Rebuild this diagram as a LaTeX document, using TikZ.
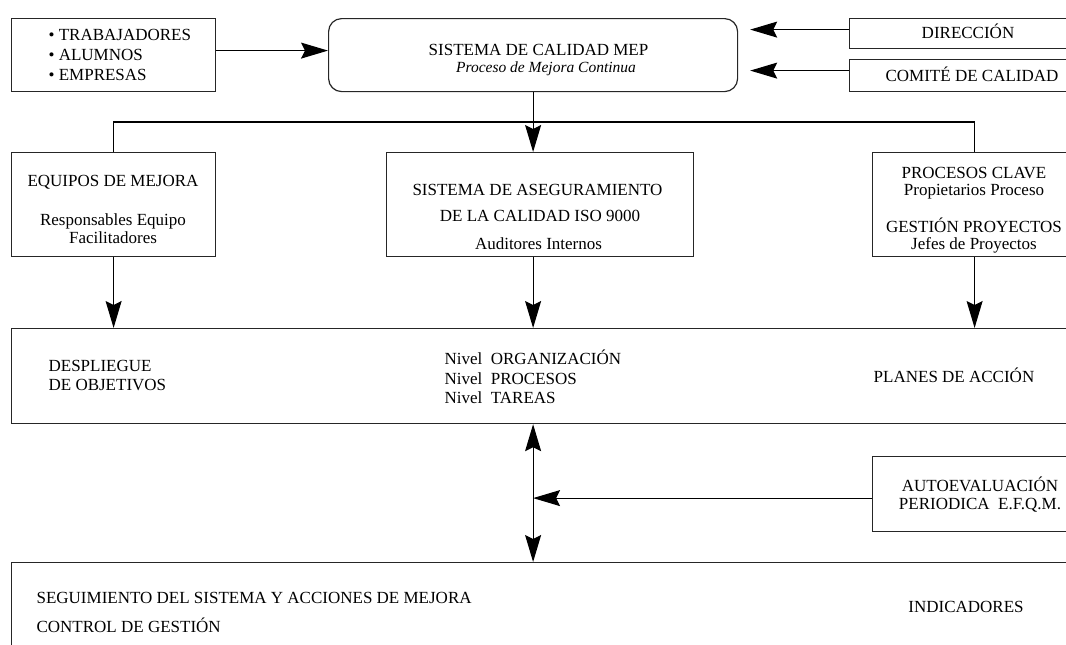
\documentclass[tikz,border=0pt]{standalone}
\usepackage{fontspec}
\setmainfont{Liberation Serif}
\usetikzlibrary{arrows.meta}
\begin{document}
\begin{tikzpicture}[x=1pt,y=-1pt, line width=1.2pt,
  box/.style={draw=black!85, inner sep=0pt, anchor=north west},
  tx/.style={inner sep=0pt, font=\fontsize{17}{19}\selectfont},
  tc/.style={tx, anchor=base},
  tw/.style={tx, anchor=base west},
  ar/.style={-{Stealth[length=27pt,width=16pt,inset=4pt]}},
  dar/.style={{Stealth[length=27pt,width=16pt,inset=4pt]}-{Stealth[length=27pt,width=16pt,inset=4pt]}}]
\useasboundingbox (0,0) rectangle (1066,645);
\clip (0,0) rectangle (1066,645);
% boxes
\node[box, minimum width=204pt, minimum height=73pt] (lst) at (11,18) {};
\node[box, rounded corners=13pt, minimum width=409pt, minimum height=73pt] (mep) at (328,18) {};
\node[box, minimum width=242pt, minimum height=30pt] (dir) at (849,18) {};
\node[box, minimum width=242pt, minimum height=32pt] (com) at (849,59) {};
\node[box, minimum width=204pt, minimum height=104pt] (equ) at (11,152) {};
\node[box, minimum width=307pt, minimum height=104pt] (sac) at (386,152) {};
\node[box, minimum width=204pt, minimum height=104pt] (pro) at (872,152) {};
\node[box, minimum width=1080pt, minimum height=95pt] (niv) at (11,328) {};
\node[box, minimum width=216pt, minimum height=75pt] (auto) at (872,456) {};
\node[box, minimum width=1080pt, minimum height=150pt] (seg) at (11,562) {};
% texts
\node[tw] (l1) at (48,40.7) {\textbullet\ TRABAJADORES};
\node[tw] (l2) at (48,60.7) {\textbullet\ ALUMNOS};
\node[tw] (l3) at (48,80.7) {\textbullet\ EMPRESAS};
\node[tc] (m1) at (538.5,55) {SISTEMA DE CALIDAD MEP};
\node[tc, font=\fontsize{15.5}{18}\selectfont\itshape] (m2) at (546,72.7) {Proceso de Mejora Continua};
\node[tc] (d1) at (968,38.3) {DIRECCIÓN};
\node[tc] (c1) at (972,81.7) {COMITÉ DE CALIDAD};
\node[tc] (e1) at (113,186.7) {EQUIPOS DE MEJORA};
\node[tc] (e2) at (113,225) {Responsables Equipo};
\node[tc] (e3) at (113,243.3) {Facilitadores};
\node[tc] (s1) at (537.5,195) {SISTEMA DE ASEGURAMIENTO};
\node[tc] (s2) at (540,221) {DE LA CALIDAD ISO 9000};
\node[tc] (s3) at (538.5,249) {Auditores Internos};
\node[tc] (p1) at (974,178) {PROCESOS CLAVE};
\node[tc] (p2) at (974,195) {Propietarios Proceso};
\node[tc] (p3) at (974,232.3) {GESTIÓN PROYECTOS};
\node[tc] (p4) at (974,249.3) {Jefes de Proyectos};
\node[tw] (n1) at (48,371) {DESPLIEGUE};
\node[tw] (n2) at (48,390) {DE OBJETIVOS};
\node[tw] (n3) at (444,364.5) {Nivel\ \ ORGANIZACIÓN};
\node[tw] (n4) at (444,384) {Nivel\ \ PROCESOS};
\node[tw] (n5) at (444,403.5) {Nivel\ \ TAREAS};
\node[tc] (n6) at (954,382) {PLANES DE ACCIÓN};
\node[tc] (a1) at (980,491) {AUTOEVALUACIÓN};
\node[tc] (a2) at (980,509) {PERIODICA\ \ E.F.Q.M.};
\node[tw] (g1) at (36,603) {SEGUIMIENTO DEL SISTEMA Y ACCIONES DE MEJORA};
\node[tw] (g2) at (36,632) {CONTROL DE GESTIÓN};
\node[tc] (g3) at (966,612) {INDICADORES};
% connectors
\coordinate (busy) at (0,122);
\coordinate (bus) at (mep.south |- busy);
\draw[ar] ([yshift=4.5pt]lst.east) -- ([yshift=4.5pt]mep.west);
\draw[ar, shorten >=12pt] ([yshift=4pt]dir.west) -- ([yshift=4pt]dir.west -| mep.east);
\draw[ar, shorten >=12pt] ([yshift=5pt]com.west) -- ([yshift=5pt]com.west -| mep.east);
\draw[ar] (mep.south) -- (mep.south |- sac.north);
\draw (equ.north) |- (bus) -| (pro.north);
\draw[ar] (equ.south) -- (equ.south |- niv.north);
\draw[ar] (mep.south |- sac.south) -- (mep.south |- niv.north);
\draw[ar] (pro.south) -- (pro.south |- niv.north);
\draw[dar] (mep.south |- niv.south) -- (mep.south |- seg.north);
\draw[ar] ([yshift=-4pt]auto.west) -- ([yshift=-4pt]auto.west -| mep.south);
\end{tikzpicture}
\end{document}
